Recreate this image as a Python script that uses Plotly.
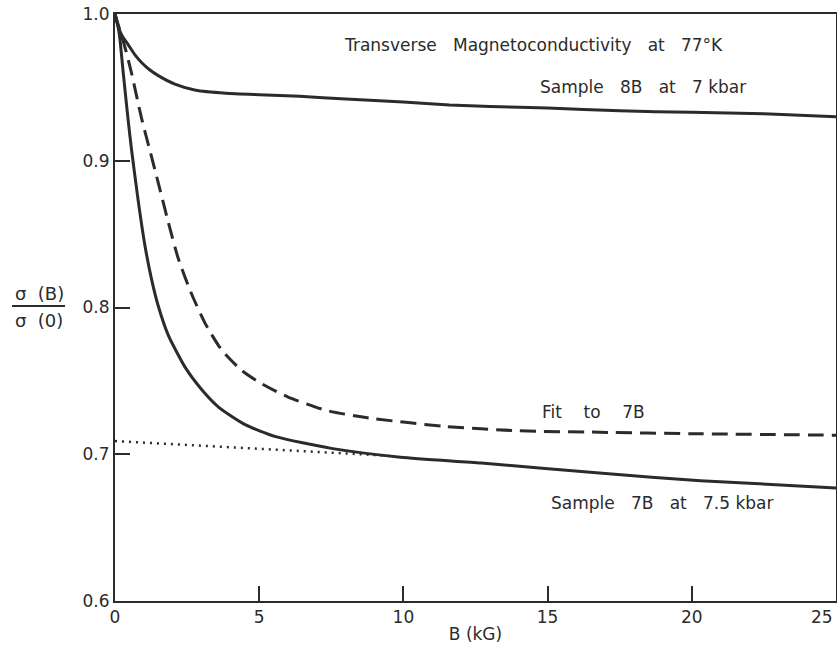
import plotly.graph_objects as go

# Sample 8B at 7 kbar
B_8B = [0, 0.1, 0.25, 0.46, 0.7, 0.92, 1.2, 1.5, 2.1, 2.8, 3.84, 5, 6.4, 8, 10, 11.6, 13, 15, 17.5, 20, 22.5, 25]
v_8B = [1.0, 0.992, 0.985, 0.979, 0.972, 0.967, 0.962, 0.958, 0.952, 0.948, 0.946, 0.945, 0.944, 0.942, 0.940, 0.938, 0.937, 0.936, 0.934, 0.933, 0.932, 0.930]

# Sample 7B at 7.5 kbar
B_7B = [0, 0.1, 0.17, 0.28, 0.39, 0.46, 0.57, 0.81, 1.04, 1.27, 1.5, 1.85, 2.44, 3.01, 3.6, 4.53, 5.57, 7.5, 9.9, 12.7, 16.9, 20.3, 25]
v_7B = [1.0, 0.992, 0.983, 0.961, 0.940, 0.927, 0.908, 0.872, 0.842, 0.819, 0.801, 0.781, 0.759, 0.744, 0.732, 0.720, 0.712, 0.704, 0.698, 0.694, 0.687, 0.682, 0.677]

# Fit to 7B
B_fit = [0, 0.35, 0.57, 0.92, 1.21, 1.5, 1.85, 2.2, 2.66, 3.13, 3.7, 4.4, 5.0, 5.57, 6.0, 7.3, 8.7, 11.4, 14, 16.8, 20, 25]
v_fit = [1.0, 0.977, 0.96, 0.929, 0.907, 0.885, 0.858, 0.833, 0.809, 0.789, 0.771, 0.757, 0.749, 0.743, 0.739, 0.730, 0.725, 0.719, 0.716, 0.715, 0.714, 0.713]

# Dotted extrapolation
B_dot = [0, 9.5]
v_dot = [0.709, 0.699]

x_ticks = [0, 5, 10, 15, 20, 25]
y_ticks = [0.6, 0.7, 0.8, 0.9, 1.0]

INK = "#2b2b2b"
FONT = "DejaVu Sans"
S = "\u00a0"

fig = go.Figure()
fig.add_trace(go.Scatter(x=B_8B, y=v_8B, mode="lines", line=dict(color=INK, width=3, shape="spline", smoothing=0.6)))
fig.add_trace(go.Scatter(x=B_7B, y=v_7B, mode="lines", line=dict(color=INK, width=3, shape="spline", smoothing=0.6)))
fig.add_trace(go.Scatter(x=B_fit, y=v_fit, mode="lines", line=dict(color=INK, width=3, dash="16px,8px", shape="spline", smoothing=0.6)))
fig.add_trace(go.Scatter(x=B_dot, y=v_dot, mode="lines", line=dict(color=INK, width=2.5, dash="2px,5px")))

ann = [
    dict(x=14.5, y=0.979, text=f"Transverse{S*3}Magnetoconductivity{S*3}at{S*3}77°K"),
    dict(x=18.3, y=0.950, text=f"Sample{S*3}8B{S*3}at{S*3}7 kbar"),
    dict(x=16.6, y=0.729, text=f"Fit{S*4}to{S*4}7B"),
    dict(x=18.96, y=0.667, text=f"Sample{S*3}7B{S*3}at{S*3}7.5 kbar"),
]
annotations = [dict(a, xref="x", yref="y", showarrow=False, xanchor="center", yanchor="middle",
                    font=dict(family=FONT, size=17, color=INK)) for a in ann]
annotations += [
    dict(x=-0.1054, y=0.5247, xref="paper", yref="paper", text=f"σ{S*2}(B)", showarrow=False,
         xanchor="center", yanchor="middle", font=dict(family=FONT, size=18, color=INK)),
    dict(x=-0.1054, y=0.4787, xref="paper", yref="paper", text=f"σ{S*2}(0)", showarrow=False,
         xanchor="center", yanchor="middle", font=dict(family=FONT, size=18, color=INK)),
    # last x tick label, right-aligned at the page edge (as in the reference)
    dict(x=x_ticks[-1], y=-0.0273, xref="x", yref="paper", text=str(x_ticks[-1]), showarrow=False,
         xanchor="right", yanchor="middle", xshift=-1, font=dict(family=FONT, size=17, color=INK)),
]

x_ticktext = [str(v) for v in x_ticks]
x_ticktext[-1] = ""

fig.update_layout(
    width=837, height=649,
    margin=dict(l=115, r=1, t=14, b=48, autoexpand=False),
    paper_bgcolor="white", plot_bgcolor="white",
    showlegend=False,
    annotations=annotations,
    shapes=[dict(type="line", xref="paper", yref="paper", x0=-0.1429, x1=-0.0693, y0=0.5026, y1=0.5026,
                 line=dict(color=INK, width=2))],
    font=dict(family=FONT, size=17, color=INK),
)
fig.update_xaxes(range=[0, 25], tickvals=x_ticks, ticktext=x_ticktext,
                 ticks="inside", ticklen=15, tickwidth=1.5, tickcolor=INK,
                 automargin=False,
                 showline=True, linecolor=INK, linewidth=2, mirror=True, showgrid=False, zeroline=False,
                 tickfont=dict(family=FONT, size=17, color=INK),
                 title=dict(text=f"B{S}(kG)", standoff=2, font=dict(family=FONT, size=17, color=INK)))
fig.update_yaxes(range=[0.6, 1.0], tickvals=y_ticks, ticktext=[f"{v:.1f}" for v in y_ticks],
                 ticks="inside", ticklen=15, tickwidth=1.5, tickcolor=INK, automargin=False,
                 showline=True, linecolor=INK, linewidth=2, mirror=True, showgrid=False, zeroline=False,
                 tickfont=dict(family=FONT, size=17, color=INK))

fig.write_html("out.html", config={"displayModeBar": False},
               post_script="document.body.style.margin='0';document.body.style.overflow='hidden';")
